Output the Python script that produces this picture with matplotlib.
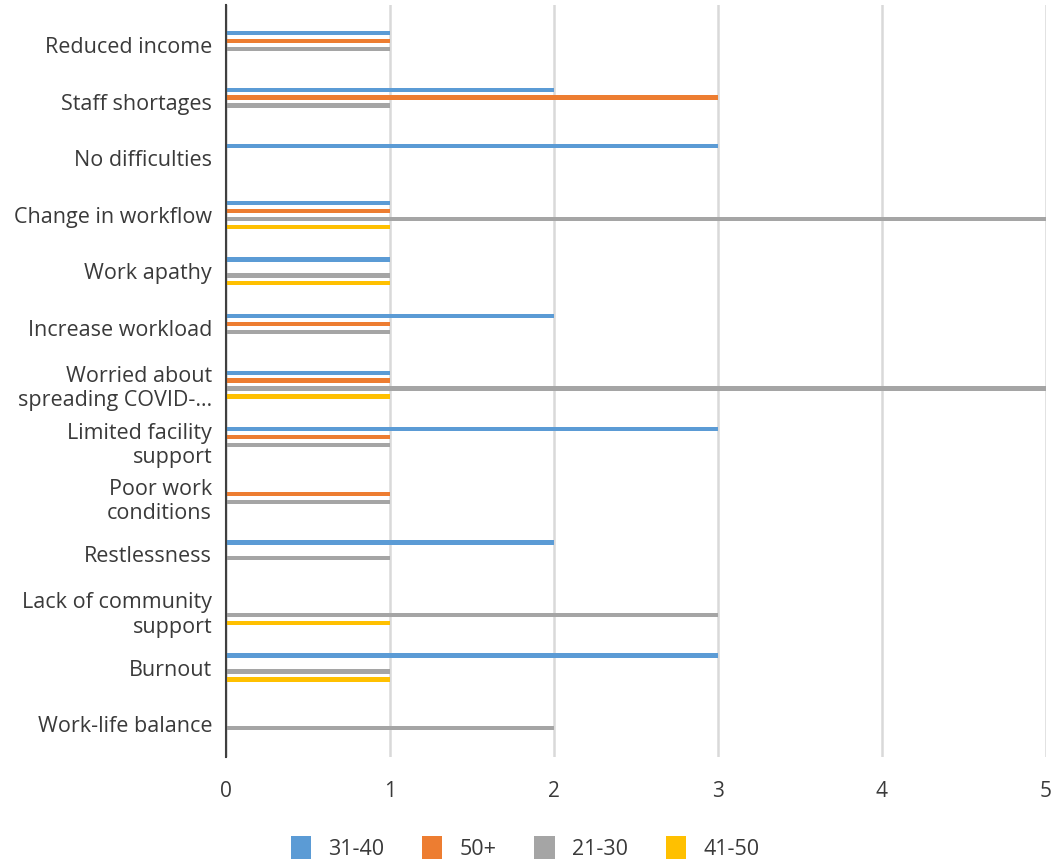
import matplotlib.pyplot as plt
import numpy as np
from matplotlib.patches import Patch

plt.rcParams['font.family'] = ['Open Sans', 'DejaVu Sans']

categories = [
    "Reduced income", "Staff shortages", "No difficulties", "Change in workflow",
    "Work apathy", "Increase workload", "Worried about\nspreading COVID-…",
    "Limited facility\nsupport", "Poor work\nconditions", "Restlessness",
    "Lack of community\nsupport", "Burnout", "Work-life balance",
]
age_31_40 = [1, 2, 3, 1, 1, 2, 1, 3, 0, 2, 0, 3, 0]
age_50_plus = [1, 3, 0, 1, 0, 1, 1, 1, 1, 0, 0, 0, 0]
age_21_30 = [1, 1, 0, 5, 1, 1, 5, 1, 1, 1, 3, 1, 2]
age_41_50 = [0, 0, 0, 1, 1, 0, 1, 0, 0, 0, 1, 1, 0]

series = [
    ("31-40", age_31_40, "#5b9bd5"),
    ("50+", age_50_plus, "#ed7d31"),
    ("21-30", age_21_30, "#a5a5a5"),
    ("41-50", age_41_50, "#ffc000"),
]

fig = plt.figure(figsize=(10.54, 8.63), dpi=100)
ax = fig.add_axes([226 / 1054, 106 / 863, 820 / 1054, 752 / 863])

y = np.arange(len(categories))
step = 0.141
for i, (name, vals, color) in enumerate(series):
    ax.barh(y + (i - 1.5) * step, vals, height=0.075, color=color, label=name, zorder=3)

ax.set_xlim(0, 5)
ax.set_ylim(12.58, -0.707)
ax.set_xticks(range(6))
ax.set_yticks(y)
ax.set_yticklabels(categories, fontsize=15.5, color="#3a3a3a", linespacing=1.2)
ax.tick_params(axis="x", labelsize=15, labelcolor="#3a3a3a", length=0, pad=17)
ax.tick_params(axis="y", length=0, pad=10)
ax.grid(axis="x", color="#d9d9d9", linewidth=1.8, zorder=0)

for s in ["top", "right", "bottom"]:
    ax.spines[s].set_visible(False)
ax.spines["left"].set_color("#404040")
ax.spines["left"].set_linewidth(1.5)
ax.spines["left"].set_zorder(4)

handles = [Patch(facecolor=c, label=n) for n, _, c in series]
fig.legend(handles=handles, loc="center", bbox_to_anchor=(525 / 1054, 1 - 848 / 863),
           ncol=4, frameon=False, fontsize=15.5, handlelength=0.95, handleheight=1.25,
           handletextpad=0.8, columnspacing=1.75, labelcolor="#3a3a3a")

fig.savefig("out.png", dpi=100)
